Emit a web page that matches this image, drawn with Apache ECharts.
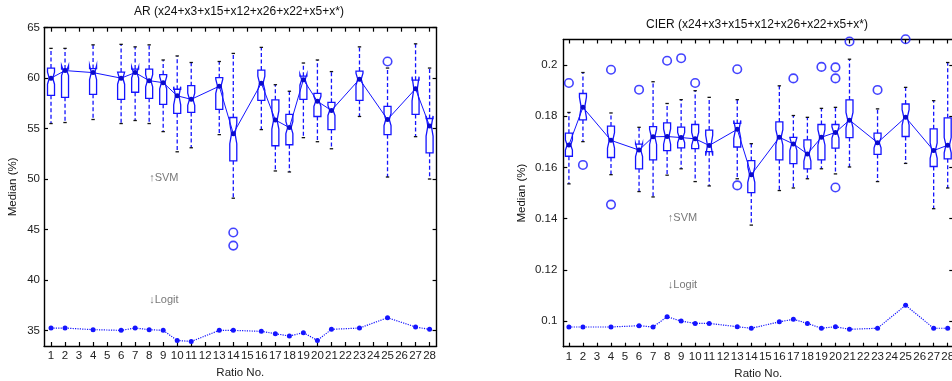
<!DOCTYPE html>
<html>
<head>
<meta charset="utf-8">
<script src="https://cdn.jsdelivr.net/npm/echarts@6.0.0/dist/echarts.min.js"></script>
<style>html,body{margin:0;padding:0;background:#fff}#c{width:952px;height:381px}</style>
</head>
<body>
<div id="c"></div>
<script>
// ---------- data ----------
const ratios = [1,2,4,6,7,8,9,10,11,13,14,16,17,18,19,20,21,23,25,27,28];
const tickLabels = [1,2,3,4,5,6,7,8,9,10,11,12,13,14,15,16,17,18,19,20,21,22,23,24,25,26,27,28];

// AR panel
const arWhiskLo = [55.5,55.6,55.9,55.5,55.8,55.5,54.7,52.7,53.1,54.4,48.1,54.9,50.8,50.7,54.1,53.7,53.0,56.2,50.2,54.2,50.0];
const arQ1      = [58.3,58.1,58.4,57.9,58.6,58.0,57.4,56.5,56.6,56.9,51.8,57.8,53.3,53.4,57.9,56.2,54.9,57.8,54.4,56.4,52.6];
const arMedian  = [60.0,60.75,60.55,60.0,60.55,59.75,59.55,58.25,57.9,59.2,54.5,59.5,55.85,55.1,59.85,57.7,56.8,59.9,55.9,58.95,55.25];
const arQ3      = [61.0,60.9,60.95,60.6,60.9,60.9,60.35,58.9,59.25,60.05,56.1,60.8,57.85,56.4,60.2,58.5,57.6,60.7,57.2,59.8,56.0];
const arWhiskHi = [62.95,62.95,63.3,63.35,63.1,63.3,61.8,62.2,61.55,61.65,62.45,63.05,59.35,58.7,61.5,61.8,60.65,63.1,61.0,63.4,61.0];
const arNotch   = [0.6,0.5,0.7,0.6,0.55,0.6,0.6,0.9,0.6,0.7,1.0,0.7,0.9,0.6,0.55,0.5,0.5,0.6,0.6,1.2,1.0];
const arOutliers = [[14,44.7],[14,43.4],[25,61.65]];
const arLogit   = [35.23,35.23,35.07,35.0,35.23,35.07,35.0,34.0,33.9,35.0,35.0,34.9,34.67,34.44,34.77,34.0,35.1,35.23,36.25,35.33,35.1];

// CIER panel
const cierWhiskLo = [0.1536,0.1701,0.1572,0.1506,0.1485,0.157,0.1595,0.1545,0.1528,0.1556,0.1375,0.151,0.152,0.1556,0.1595,0.1575,0.1602,0.1545,0.1616,0.1439,0.152];
const cierQ1      = [0.1644,0.1786,0.1639,0.1595,0.163,0.1666,0.1677,0.1674,0.1662,0.168,0.1502,0.163,0.1615,0.1595,0.163,0.1676,0.1717,0.1651,0.1721,0.1604,0.1634];
const cierMedian  = [0.1688,0.1835,0.1706,0.1668,0.172,0.1721,0.1717,0.1712,0.1686,0.1749,0.1572,0.1718,0.1692,0.1653,0.1718,0.1737,0.1785,0.1697,0.1796,0.1666,0.1687];
const cierQ3      = [0.1734,0.1889,0.1762,0.1691,0.176,0.1774,0.1758,0.1768,0.1746,0.1772,0.1627,0.1778,0.1718,0.1708,0.1768,0.1768,0.1864,0.1734,0.1848,0.1751,0.1794];
const cierWhiskHi = [0.1815,0.1971,0.1813,0.1757,0.1935,0.185,0.1865,0.19,0.1874,0.1865,0.1693,0.1919,0.1803,0.1796,0.1831,0.1835,0.2023,0.1829,0.1913,0.1861,0.201];
const cierNotch   = [0.002,0.004,0.003,0.0025,0.003,0.003,0.002,0.0025,0.004,0.0035,0.003,0.003,0.0025,0.0028,0.003,0.0022,0.003,0.002,0.003,0.003,0.003];
const cierOutliers = [[1,0.193],[2,0.161],[4,0.1982],[4,0.1455],[6,0.1904],[8,0.2017],[9,0.2027],[10,0.193],[13,0.1984],[13,0.153],[17,0.1948],[19,0.1993],[20,0.1991],[20,0.1948],[20,0.1522],[21,0.2092],[23,0.1903],[25,0.2101]];
const cierLogit   = [0.0977,0.0977,0.0977,0.0982,0.0977,0.1017,0.1,0.0991,0.0991,0.0978,0.0972,0.0997,0.1007,0.0991,0.0972,0.0978,0.0968,0.0972,0.1062,0.0972,0.0972];

const arYTicks = [35,40,45,50,55,60,65];
const cierYTicks = [0.1,0.12,0.14,0.16,0.18,0.2];

const titles = ['AR (x24+x3+x15+x12+x26+x22+x5+x*)', 'CIER (x24+x3+x15+x12+x26+x22+x5+x*)'];
const arNotes = [[8, 50.1, '↑SVM'], [8, 38.0, '↓Logit']];
const cierNotes = [[8.05, 0.1403, '↑SVM'], [8.05, 0.114, '↓Logit']];

// ---------- styles ----------
const FONT = '"Liberation Sans", Arial, sans-serif';
const BLUE = '#1414ff';
const boxHalf = 3.5;

function boxData(lo, q1, med, q3, hi, notch) {
  return ratios.map((r, i) => [r, lo[i], q1[i], med[i], q3[i], hi[i], notch[i]]);
}

function renderBox(params, api) {
  const x = api.value(0), lo = api.value(1), q1 = api.value(2), med = api.value(3),
        q3 = api.value(4), hi = api.value(5), nh = api.value(6);
  const cx = api.coord([x, med])[0];
  const Y = v => api.coord([x, v])[1];
  const nlo = med - nh, nhi = med + nh;
  const h = boxHalf, n = boxHalf / 2;
  const pts = [
    [cx - h, Y(q1)], [cx - h, Y(nlo)], [cx - n, Y(med)], [cx - h, Y(nhi)], [cx - h, Y(q3)],
    [cx + h, Y(q3)], [cx + h, Y(nhi)], [cx + n, Y(med)], [cx + h, Y(nlo)], [cx + h, Y(q1)]
  ];
  const dash = { stroke: BLUE, lineWidth: 1.3, lineDash: [4, 2.5] };
  const cap = { stroke: '#111', lineWidth: 1.3 };
  return {
    type: 'group',
    children: [
      { type: 'line', shape: { x1: cx, y1: Y(q3), x2: cx, y2: Y(hi) }, style: dash },
      { type: 'line', shape: { x1: cx, y1: Y(q1), x2: cx, y2: Y(lo) }, style: dash },
      { type: 'line', shape: { x1: cx - 1.7, y1: Y(hi), x2: cx + 1.7, y2: Y(hi) }, style: cap },
      { type: 'line', shape: { x1: cx - 1.7, y1: Y(lo), x2: cx + 1.7, y2: Y(lo) }, style: cap },
      { type: 'polygon', shape: { points: pts }, style: { fill: 'rgba(255,255,255,0)', stroke: BLUE, lineWidth: 1.3 } }
    ]
  };
}

const axisLineStyle = { lineStyle: { color: '#000', width: 1.4 } };
const tickStyle = (vals) => ({ show: true, inside: true, length: 4, customValues: vals, lineStyle: { color: '#000', width: 1.2 } });

function xAxes(gridIndex, min, max) {
  return [
    { type: 'value', gridIndex, min, max, position: 'bottom',
      axisLine: axisLineStyle, splitLine: { show: false },
      axisTick: tickStyle(tickLabels),
      axisLabel: { customValues: tickLabels, margin: 4, fontSize: 11.5, color: '#222', fontFamily: FONT },
      name: 'Ratio No.', nameLocation: 'middle', nameGap: 20,
      nameTextStyle: { fontSize: 11.5, color: '#222', fontFamily: FONT } },
    { type: 'value', gridIndex, min, max, position: 'top',
      axisLine: axisLineStyle, splitLine: { show: false },
      axisTick: tickStyle(tickLabels), axisLabel: { show: false } }
  ];
}
function yAxes(gridIndex, min, max, ticks, labelMargin, nameGap) {
  return [
    { type: 'value', gridIndex, min, max, position: 'left',
      axisLine: axisLineStyle, splitLine: { show: false },
      axisTick: tickStyle(ticks),
      axisLabel: { customValues: ticks, margin: labelMargin, fontSize: 11.5, color: '#222', fontFamily: FONT },
      name: 'Median (%)', nameLocation: 'middle', nameGap,
      nameTextStyle: { fontSize: 11.5, color: '#111', fontFamily: FONT } },
    { type: 'value', gridIndex, min, max, position: 'right',
      axisLine: axisLineStyle, splitLine: { show: false },
      axisTick: tickStyle(ticks), axisLabel: { show: false } }
  ];
}

function panelSeries(xi, yi, lo, q1, med, q3, hi, notch, outliers, logit, notes) {
  return [
    { type: 'custom', xAxisIndex: xi, yAxisIndex: yi, renderItem: renderBox,
      data: boxData(lo, q1, med, q3, hi, notch), encode: { x: 0, y: [1, 5] }, clip: false, z: 2 },
    { type: 'line', xAxisIndex: xi, yAxisIndex: yi, data: ratios.map((r, i) => [r, med[i]]),
      symbol: 'circle', symbolSize: 5, itemStyle: { color: '#0a0acc' },
      lineStyle: { color: BLUE, width: 1 }, z: 3, animation: false },
    { type: 'scatter', xAxisIndex: xi, yAxisIndex: yi, data: outliers,
      symbol: 'circle', symbolSize: 8.5, clip: false,
      itemStyle: { color: 'rgba(255,255,255,0)', borderColor: BLUE, borderWidth: 1.6 }, z: 3 },
    { type: 'line', xAxisIndex: xi, yAxisIndex: yi, data: ratios.map((r, i) => [r, logit[i]]),
      symbol: 'circle', symbolSize: 5, itemStyle: { color: BLUE },
      lineStyle: { color: BLUE, width: 1.2, type: 'dotted' }, z: 3, animation: false },
    { type: 'scatter', xAxisIndex: xi, yAxisIndex: yi, data: notes, symbolSize: 0, silent: true,
      label: { show: true, position: [0, 0], align: 'left', verticalAlign: 'middle',
               formatter: p => p.data[2], fontSize: 11, color: '#555', fontFamily: FONT } }
  ];
}

const chart = echarts.init(document.getElementById('c'), null, { renderer: 'canvas' });
chart.setOption({
  animation: false,
  backgroundColor: '#fff',
  textStyle: { fontFamily: FONT },
  grid: [
    { left: 44, top: 27.7, width: 392.6, height: 318.3, containLabel: false, outerBoundsMode: 'none' },
    { left: 563.3, top: 39.5, width: 390, height: 307.2, containLabel: false, outerBoundsMode: 'none' }
  ],
  xAxis: [...xAxes(0, 0.5, 28.5), ...xAxes(1, 0.6, 28.4)],
  yAxis: [...yAxes(0, 33.45, 65, arYTicks, 4, 25), ...yAxes(1, 0.09, 0.21, cierYTicks, 6, 35)],
  graphic: [
    { type: 'text', x: 239, y: 12, style: { text: titles[0], textAlign: 'center', textVerticalAlign: 'middle', fontSize: 12, fill: '#111', fontFamily: FONT } },
    { type: 'text', x: 757, y: 25, style: { text: titles[1], textAlign: 'center', textVerticalAlign: 'middle', fontSize: 12, fill: '#111', fontFamily: FONT } }
  ],
  series: [
    ...panelSeries(0, 0, arWhiskLo, arQ1, arMedian, arQ3, arWhiskHi, arNotch, arOutliers, arLogit, arNotes),
    ...panelSeries(2, 2, cierWhiskLo, cierQ1, cierMedian, cierQ3, cierWhiskHi, cierNotch, cierOutliers, cierLogit, cierNotes)
  ]
});
</script>
</body>
</html>
